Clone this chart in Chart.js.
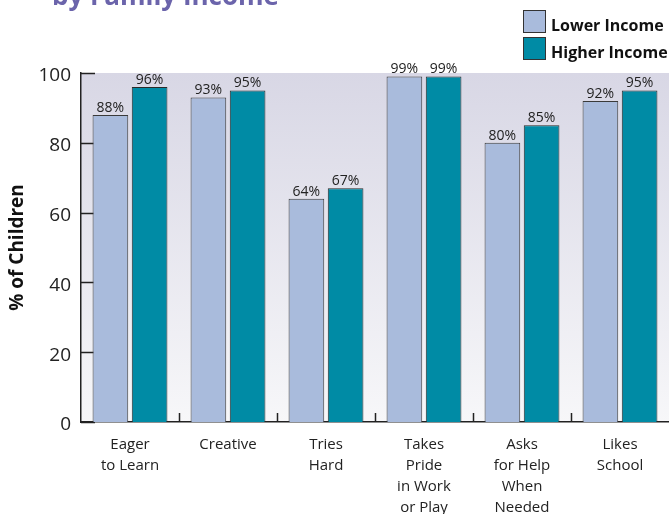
<!DOCTYPE html>
<html>
<head>
<meta charset="utf-8">
<title>Learning Behaviors by Family Income</title>
<script src="https://cdn.jsdelivr.net/npm/chart.js@4.4.1/dist/chart.umd.min.js"></script>
<style>
  body { margin: 0; background: #fff; }
  canvas { display: block; }
</style>
</head>
<body>
<canvas id="chart" width="669" height="514"></canvas>
<script>
const categories = [
    ["Eager", "to Learn"],
    ["Creative"],
    ["Tries", "Hard"],
    ["Takes", "Pride", "in Work", "or Play"],
    ["Asks", "for Help", "When", "Needed"],
    ["Likes", "School"],
];
const seriesNames = ["Lower Income", "Higher Income"];
const lowerIncome = [88, 93, 64, 99, 80, 92];
const higherIncome = [96, 95, 67, 99, 85, 95];
const yTicks = [0, 20, 40, 60, 80, 100];

const titleText = "by Family Income";
const font = "'Open Sans', 'Liberation Sans', sans-serif";

// gradient behind the plot area
const plotBackground = {
    id: "plotBackground",
    beforeDraw(chart) {
        const { ctx, chartArea: a } = chart;
        const g = ctx.createLinearGradient(0, a.top, 0, a.bottom);
        g.addColorStop(0, "#d8d7e5");
        g.addColorStop(1, "#f7f7f9");
        ctx.save();
        ctx.fillStyle = g;
        ctx.fillRect(a.left, a.top, a.right - a.left, a.bottom - a.top);
        ctx.restore();
    },
};

// tick marks pointing into the plot
const innerTicks = {
    id: "innerTicks",
    beforeDatasetsDraw(chart) {
        const { ctx, chartArea: a, scales: { x, y } } = chart;
        ctx.save();
        ctx.strokeStyle = "#222";
        ctx.lineWidth = 1.5;
        ctx.beginPath();
        yTicks.forEach((v) => {
            const py = Math.round(y.getPixelForValue(v)) + 0.5;
            ctx.moveTo(a.left, py);
            ctx.lineTo(a.left + 14, py);
        });
        for (let i = 1; i < categories.length; i++) {
            const px = Math.round((x.getPixelForValue(i - 1) + x.getPixelForValue(i)) / 2) + 0.5;
            ctx.moveTo(px, a.bottom);
            ctx.lineTo(px, a.bottom - 9);
        }
        ctx.stroke();
        ctx.restore();
    },
};

// percent labels above the bars
const valueLabels = {
    id: "valueLabels",
    afterDatasetsDraw(chart) {
        const { ctx } = chart;
        ctx.save();
        ctx.font = "14px " + font;
        ctx.fillStyle = "#222";
        ctx.textAlign = "center";
        ctx.textBaseline = "alphabetic";
        chart.data.datasets.forEach((ds, di) => {
            chart.getDatasetMeta(di).data.forEach((bar, i) => {
                ctx.fillText(ds.data[i] + "%", bar.x, bar.y - 3);
            });
        });
        ctx.restore();
    },
};

// heading and stacked legend at the top
const header = {
    id: "header",
    afterDraw(chart) {
        const { ctx } = chart;
        ctx.save();
        ctx.font = "bold 26px " + font;
        ctx.fillStyle = "#6b64ab";
        ctx.textBaseline = "alphabetic";
        ctx.fillText(titleText, 52, 5);

        ctx.font = "bold 16px " + font;
        chart.data.datasets.forEach((ds, i) => {
            const top = 10 + i * 27;
            ctx.fillStyle = ds.backgroundColor;
            ctx.fillRect(523, top, 23, 23);
            ctx.strokeStyle = "#333";
            ctx.lineWidth = 1;
            ctx.strokeRect(523.5, top + 0.5, 22, 22);
            ctx.fillStyle = "#111";
            ctx.fillText(ds.label, 551, top + 21);
        });
        ctx.restore();
    },
};

new Chart(document.getElementById("chart"), {
    type: "bar",
    data: {
        labels: categories,
        datasets: [
            {
                label: seriesNames[0],
                data: lowerIncome,
                backgroundColor: "#a9bbdc",
                borderColor: "#3a3a3a",
                borderWidth: 1,
            },
            {
                label: seriesNames[1],
                data: higherIncome,
                backgroundColor: "#008ba5",
                borderColor: "#2a2a2a",
                borderWidth: 1,
            },
        ],
    },
    options: {
        responsive: false,
        devicePixelRatio: 1,
        animation: false,
        categoryPercentage: 0.8,
        barPercentage: 0.91,
        layout: { padding: { top: 73, right: 0, left: 0, bottom: 0 } },
        plugins: {
            legend: { display: false },
            tooltip: { enabled: false },
        },
        scales: {
            x: {
                grid: { display: false },
                border: { display: true, color: "#222", width: 1.5 },
                ticks: {
                    color: "#222",
                    padding: 4,
                    maxRotation: 0,
                    autoSkip: false,
                    font: { family: font, size: 15, lineHeight: 1.4 },
                },
                afterFit(scale) { scale.height = 92; },
            },
            y: {
                min: 0,
                max: 100,
                grid: { display: false },
                border: { display: true, color: "#222", width: 1.5 },
                ticks: {
                    stepSize: 20,
                    color: "#222",
                    padding: 2,
                    labelOffset: 3,
                    font: { family: font, size: 19 },
                },
                title: {
                    display: true,
                    text: "% of Children",
                    color: "#111",
                    padding: { top: 6, bottom: 0 },
                    font: { family: font, size: 19, weight: "bold" },
                },
                afterFit(scale) { scale.width = 81; },
            },
        },
    },
    plugins: [plotBackground, innerTicks, valueLabels, header],
});
</script>
</body>
</html>
